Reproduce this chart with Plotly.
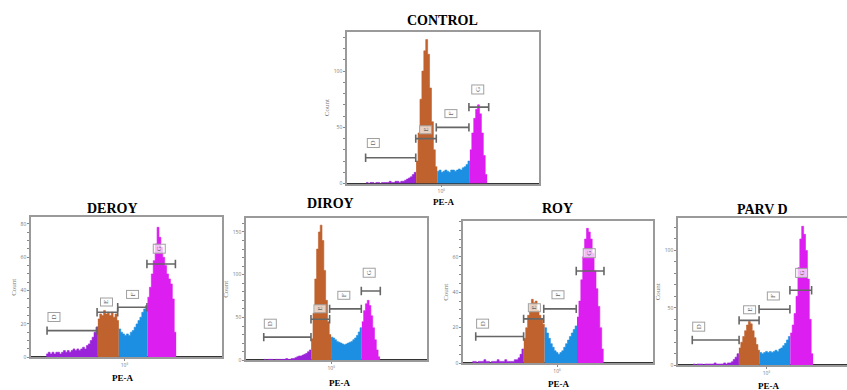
import plotly.graph_objects as go

W, H = 847, 390

# ---------------- data ----------------
channels = list(range(5, 79))  # histogram bins (PE-A channel, arbitrary scale)

panel_names = ["CONTROL", "DEROY", "DIROY", "ROY", "PARV D"]

counts_control = [0, 0, 0, 0, 0,
                  1, 0, 1, 1, 0, 1, 1, 0, 1, 1,
                  1, 1, 2, 1, 1, 2, 2, 1, 2,
                  2, 3, 4, 5, 6, 8, 10,
                  20, 45, 75, 100, 118, 128, 115, 85, 55, 30, 15,
                  11, 12, 10, 11, 12, 11, 10, 12, 12, 11, 12, 13, 12, 14, 15, 17, 20,
                  30, 45, 58, 66, 70, 62, 45, 25, 8, 0,
                  0, 0, 0, 0, 0]
counts_deroy = [0, 0, 0,
                2, 3, 2, 3, 2, 3, 3, 2, 3, 4, 3, 4, 3, 4, 5, 4, 5, 4, 5, 6, 5, 7, 8, 10, 12, 15, 18,
                23, 26, 25, 28, 26, 27, 25, 27, 24, 26, 22,
                17, 15, 14, 13, 14, 13, 15, 16, 18, 20, 22, 24, 27, 29, 31,
                36, 42, 50, 58, 68, 78, 72, 66, 60, 55, 50, 47, 44, 35, 15,
                0, 0, 0]
counts_diroy = [0, 0, 0, 0, 0,
                1, 0, 1, 1, 1, 0, 1, 1, 1, 1, 1, 1, 2, 1, 1, 2,
                2, 3, 4, 5, 5, 6, 7, 8, 10, 12,
                25, 55, 95, 130, 150, 158, 140, 105, 70, 45, 30,
                27, 26, 24, 22, 21, 20, 19, 18, 19, 20, 21, 22, 24, 26, 29, 33, 38,
                45, 58, 66, 70, 64, 52, 38, 24, 12, 4,
                0, 0, 0, 0, 0]
counts_roy = [1, 1, 0, 1, 1, 1, 2, 1, 1, 0, 1, 1, 1, 2, 1, 1, 1, 2, 1, 1, 1,
              1, 2, 2, 3, 5, 8,
              14, 20, 27, 33, 36, 34, 35, 30, 27, 25, 22,
              20, 17, 14, 11, 9, 7, 6, 5, 6, 7, 9, 11, 13, 15, 17, 19, 21,
              26, 35, 47, 60, 70, 76, 74, 70, 62, 52, 42, 32, 20, 8,
              0, 0, 0, 0, 0]
counts_parvd = [0, 0, 0,
                1, 0, 1, 1, 1, 0, 1, 1, 1, 1, 1, 2, 1, 1, 1, 1, 2, 1, 2, 2,
                3, 5, 7, 10,
                15, 20, 25, 30, 35, 38, 36, 30, 24, 18, 13,
                11, 10, 11, 12, 11, 12, 11, 12, 13, 12, 14, 15, 17, 19, 22, 25,
                28, 35, 45, 60, 85, 110, 121, 114, 100, 75, 40, 10,
                0, 0, 0, 0, 0, 0, 0, 0]

# gate region boundaries (D | E | F | G) on the channel scale
bounds_control = [10, 36, 47, 64, 73]
bounds_deroy = [8, 35, 46, 61, 76]
bounds_diroy = [10, 36, 47, 64, 74]
bounds_roy = [5, 32, 43, 60, 74]
bounds_parvd = [8, 32, 43, 59, 71]

gate_letters = ["D", "E", "F", "G"]
# gate markers: start, end, level, label x, label y
gate_lo_control = [9.7, 35.8, 46.5, 63.5]
gate_hi_control = [35.8, 46.5, 63.5, 73.8]
gate_y_control = [23, 40, 50, 68]
label_x_control = [13.5, 41.0, 54.3, 67.9]
label_y_control = [36, 48, 62, 84]

gate_lo_deroy = [8.4, 34.6, 45.4, 60.7]
gate_hi_deroy = [34.6, 45.4, 60.7, 75.6]
gate_y_deroy = [16, 27, 30, 56]
label_x_deroy = [11.9, 39.4, 53.4, 67.4]
label_y_deroy = [24, 33, 38, 65]

gate_lo_diroy = [9.8, 35.9, 46.2, 63.7]
gate_hi_diroy = [35.9, 46.2, 63.7, 74.2]
gate_y_diroy = [27, 48, 60, 81]
label_x_diroy = [13.4, 41.1, 53.9, 67.8]
label_y_diroy = [43, 60, 76, 102]

gate_lo_roy = [6.7, 31.9, 42.5, 59.6]
gate_hi_roy = [31.9, 42.5, 59.6, 74.2]
gate_y_roy = [15, 25, 30.6, 52]
label_x_roy = [10.2, 37.4, 50.2, 66.3]
label_y_roy = [22.5, 31, 38.5, 62]

gate_lo_parvd = [7.5, 32.1, 42.6, 58.8]
gate_hi_parvd = [32.1, 42.6, 58.8, 70.2]
gate_y_parvd = [22, 39, 48.7, 65.3]
label_x_parvd = [11.0, 37.4, 50.0, 64.9]
label_y_parvd = [33.5, 48, 60, 80]

# axes
y_max = [135, 84, 166, 80, 128]
y_major_ticks = [[0, 50, 100], [0, 20, 40, 60, 80], [0, 50, 100, 150], [0, 20, 40, 60], [0, 50, 100]]
y_minor_step = [10, 5, 10, 5, 10]
x_max = [100, 100, 100, 100, 88.8]
x_tick_pos = [49.1, 48.9, 47.1, 49.5, 46.5]
x_tick_text = "10\u2075"

# ---------------- layout geometry (pixels) ----------------
frames = [  # left, right, top, bottom
    (347, 539, 32, 185),
    (31, 222, 219, 360),
    (246, 427, 220, 363),
    (463, 653, 223, 366),
    (678, 847, 220, 368),
]
title_pos = [(442, 21), (112, 210), (330, 205), (557, 210), (762, 211)]
xlabel_pos = [(443, 204), (122, 381), (339, 386), (558, 387), (768, 389)]

region_colors = ["#9a22d8", "#c0622e", "#1c8fe3", "#dc1ef0"]

counts_all = [counts_control, counts_deroy, counts_diroy, counts_roy, counts_parvd]
bounds_all = [bounds_control, bounds_deroy, bounds_diroy, bounds_roy, bounds_parvd]
gates_all = [
    (gate_lo_control, gate_hi_control, gate_y_control, label_x_control, label_y_control),
    (gate_lo_deroy, gate_hi_deroy, gate_y_deroy, label_x_deroy, label_y_deroy),
    (gate_lo_diroy, gate_hi_diroy, gate_y_diroy, label_x_diroy, label_y_diroy),
    (gate_lo_roy, gate_hi_roy, gate_y_roy, label_x_roy, label_y_roy),
    (gate_lo_parvd, gate_hi_parvd, gate_y_parvd, label_x_parvd, label_y_parvd),
]

fig = go.Figure()
annotations = []
layout_axes = {}

for p in range(5):
    n = p + 1
    xa = "x" if n == 1 else f"x{n}"
    ya = "y" if n == 1 else f"y{n}"
    xkey = "xaxis" if n == 1 else f"xaxis{n}"
    ykey = "yaxis" if n == 1 else f"yaxis{n}"
    counts = counts_all[p]
    bnd = bounds_all[p]

    # histogram regions
    for r in range(4):
        lo, hi = bnd[r], bnd[r + 1]
        xs = [c for c in channels if lo <= c < hi]
        ys = [counts[channels.index(c)] for c in xs]
        xs = xs + [hi]
        ys = ys + [ys[-1]]
        fig.add_trace(go.Scatter(
            x=xs, y=ys, xaxis=xa, yaxis=ya, mode="lines", line_shape="hv",
            line=dict(color=region_colors[r], width=0.6), fill="tozeroy",
            fillcolor=region_colors[r], hoverinfo="skip", showlegend=False))

    # gates
    glo, ghi, gy, lx, ly = gates_all[p]
    for g in range(4):
        fig.add_trace(go.Scatter(
            x=[glo[g], ghi[g]], y=[gy[g], gy[g]], xaxis=xa, yaxis=ya,
            mode="lines+markers", line=dict(color="#666666", width=1.6),
            marker=dict(symbol="line-ns-open", size=6, line=dict(color="#666666", width=1.6)),
            hoverinfo="skip", showlegend=False))
        annotations.append(dict(
            x=lx[g], y=ly[g], xref=xa, yref=ya, text=gate_letters[g], showarrow=False,
            textangle=-90,
            font=dict(size=7, color="#666666", family="Liberation Serif"),
            bordercolor="#a0a0a0", borderwidth=1, borderpad=1.5, bgcolor="rgba(255,255,255,0.7)"))

    l, r_, t, b = frames[p]
    ymaj = y_major_ticks[p]
    step = y_minor_step[p]
    tv = list(range(0, int(y_max[p]) + 1, step))
    tt = [str(v) if v in ymaj else "" for v in tv]

    layout_axes[xkey] = dict(
        domain=[l / W, r_ / W], anchor=ya, range=[0, x_max[p]],
        showgrid=False, zeroline=False, showline=True, mirror=True,
        linecolor="#9a9a9a", linewidth=1.5,
        tickvals=[x_tick_pos[p]], ticktext=[x_tick_text], ticks="outside", ticklen=2,
        tickcolor="#888888", tickfont=dict(size=5, color="#777777"), fixedrange=True)
    layout_axes[ykey] = dict(
        domain=[1 - b / H, 1 - t / H], anchor=xa, range=[0, y_max[p]],
        showgrid=False, zeroline=True, zerolinecolor="#333333", zerolinewidth=2,
        showline=True, mirror=(p != 4), linecolor="#9a9a9a", linewidth=1.5,
        tickvals=tv, ticktext=tt, ticks="outside", ticklen=2, tickcolor="#888888",
        tickfont=dict(size=5, color="#777777"),
        title=dict(text="Count", font=dict(size=7, color="#777777", family="Liberation Serif"),
                   standoff=3), fixedrange=True)

    tx, ty = title_pos[p]
    annotations.append(dict(
        x=tx / W, y=1 - ty / H, xref="paper", yref="paper", text=f"<b>{panel_names[p]}</b>",
        showarrow=False, xanchor="center", yanchor="middle",
        font=dict(size=14, color="#000000", family="Liberation Serif")))
    lx_, ly_ = xlabel_pos[p]
    annotations.append(dict(
        x=lx_ / W, y=1 - ly_ / H, xref="paper", yref="paper", text="<b>PE-A</b>",
        showarrow=False, xanchor="center", yanchor="middle",
        font=dict(size=9, color="#000000", family="Liberation Serif")))

fig.update_layout(
    width=W, height=H, margin=dict(l=0, r=0, t=0, b=0),
    paper_bgcolor="white", plot_bgcolor="white",
    annotations=annotations, showlegend=False, **layout_axes)

fig.write_html(
    "out.html", config={"displayModeBar": False},
    post_script="document.body.style.margin='0';document.body.style.overflow='hidden';")
